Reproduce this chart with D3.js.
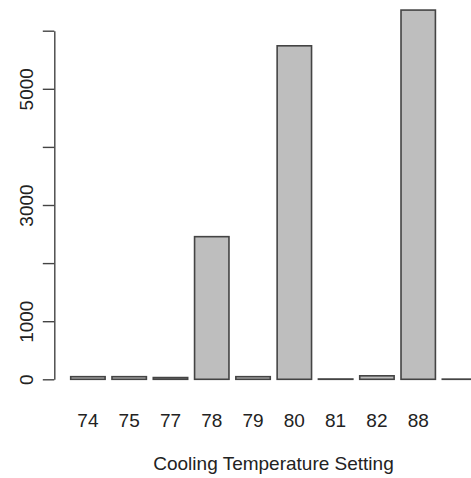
<!DOCTYPE html>
<html>
<head>
<meta charset="utf-8">
<script src="https://cdn.jsdelivr.net/npm/d3@7"></script>
<style>
  body { margin: 0; background: #fff; }
  text { font-family: "Liberation Sans", Arial, sans-serif; fill: #222; }
</style>
</head>
<body>
<div id="chart"></div>
<script>
// data
var categories = ["74", "75", "77", "78", "79", "80", "81", "82", "88", ""];
var counts = [45, 45, 30, 2455, 45, 5740, 5, 60, 6355, 3];
var yTicks = [0, 1000, 2000, 3000, 4000, 5000, 6000];
var yTickLabels = ["0", "1000", "", "3000", "", "5000", ""];
var xTitle = "Cooling Temperature Setting";

var svgWidth = 471;
var svgHeight = 478;

var svg = d3.select("#chart")
  .append("svg")
  .attr("width", svgWidth)
  .attr("height", svgHeight);

// scales
var xBand = d3.scaleBand()
  .domain(d3.range(categories.length))
  .range([70.7, 476.7])
  .paddingInner(0.2 / 1.2)
  .paddingOuter(0);

var yLinearScale = d3.scaleLinear()
  .domain([0, 6000])
  .range([379.3, 30.7]);

// bars
svg.selectAll("rect.bar")
  .data(counts)
  .enter()
  .append("rect")
  .attr("class", "bar")
  .attr("x", (d, i) => xBand(i))
  .attr("y", d => yLinearScale(d))
  .attr("width", xBand.bandwidth())
  .attr("height", d => yLinearScale(0) - yLinearScale(d))
  .attr("fill", "#bebebe")
  .attr("stroke", "#444")
  .attr("stroke-width", 1.6);

// left axis, labels rotated like R's
var leftAxis = d3.axisLeft(yLinearScale)
  .tickValues(yTicks)
  .tickSize(11.5)
  .tickSizeOuter(0)
  .tickFormat((d, i) => yTickLabels[i]);

var yAxis = svg.append("g")
  .attr("transform", "translate(54.3, 0)")
  .call(leftAxis);

yAxis.select(".domain")
  .attr("stroke", "#444")
  .attr("stroke-width", 1.4);
yAxis.selectAll(".tick line")
  .attr("stroke", "#444")
  .attr("stroke-width", 1.4);
yAxis.selectAll(".tick text")
  .attr("x", 0)
  .attr("y", 0)
  .attr("dy", 0)
  .attr("transform", "translate(-27.5, 0) rotate(-90)")
  .attr("text-anchor", "middle")
  .attr("dominant-baseline", "central")
  .style("font-size", "19px")
  .style("fill", "#222");

// category labels
svg.selectAll("text.cat")
  .data(categories)
  .enter()
  .append("text")
  .attr("class", "cat")
  .attr("x", (d, i) => xBand(i) + xBand.bandwidth() / 2)
  .attr("y", 427)
  .attr("text-anchor", "middle")
  .style("font-size", "19px")
  .text(d => d);

// x title
svg.append("text")
  .attr("x", 273.5)
  .attr("y", 470)
  .attr("text-anchor", "middle")
  .style("font-size", "19px")
  .text(xTitle);
</script>
</body>
</html>
